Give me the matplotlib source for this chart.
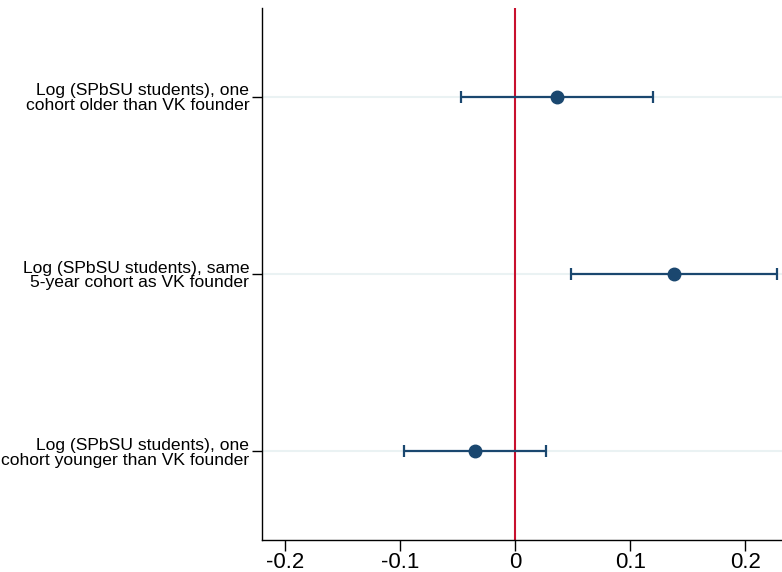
import matplotlib.pyplot as plt
import numpy as np

plt.rcParams['font.family'] = ['Liberation Sans', 'DejaVu Sans']

labels = ['Log (SPbSU students), one\ncohort older than VK founder',
          'Log (SPbSU students), same\n5-year cohort as VK founder',
          'Log (SPbSU students), one\ncohort younger than VK founder']
coef = [0.0365, 0.138, -0.0348]
ci_lo = [-0.047, 0.0487, -0.0965]
ci_hi = [0.120, 0.228, 0.027]
xticks = [-0.2, -0.1, 0, 0.1, 0.2]
xticklabels = ['-0.2', '-0.1', '0', '0.1', '0.2']

navy = '#1a476f'
red = '#c8102e'

fig = plt.figure(figsize=(7.82, 5.72), dpi=100)
ax = fig.add_axes([262/782, 32/572, 1 - 262/782, (540-8)/572])

ypos = np.arange(1, len(labels) + 1)
coef = np.array(coef)
lo = coef - np.array(ci_lo)
hi = np.array(ci_hi) - coef

for y in ypos:
    ax.axhline(y, color='#eaf2f3', lw=1.5, zorder=0)
ax.axvline(0, color=red, lw=1.5, zorder=1)
ax.errorbar(coef, ypos, xerr=[lo, hi], fmt='o', color=navy, ms=9,
            elinewidth=1.6, capsize=4, capthick=1.6, zorder=3)

ax.set_xlim(-0.22, 0.232)
ax.set_ylim(3.5, 0.5)
ax.set_yticks(ypos)
ax.set_yticklabels(labels, fontsize=12.6, linespacing=1.0)
ax.set_xticks(xticks)
ax.set_xticklabels(xticklabels, fontsize=16)
ax.tick_params(axis='y', length=7, width=1, pad=2)
ax.tick_params(axis='x', length=8, width=1, pad=1)
for s in ['top', 'right']:
    ax.spines[s].set_visible(False)
for s in ['left', 'bottom']:
    ax.spines[s].set_linewidth(1)

fig.savefig('out.png', dpi=100)
